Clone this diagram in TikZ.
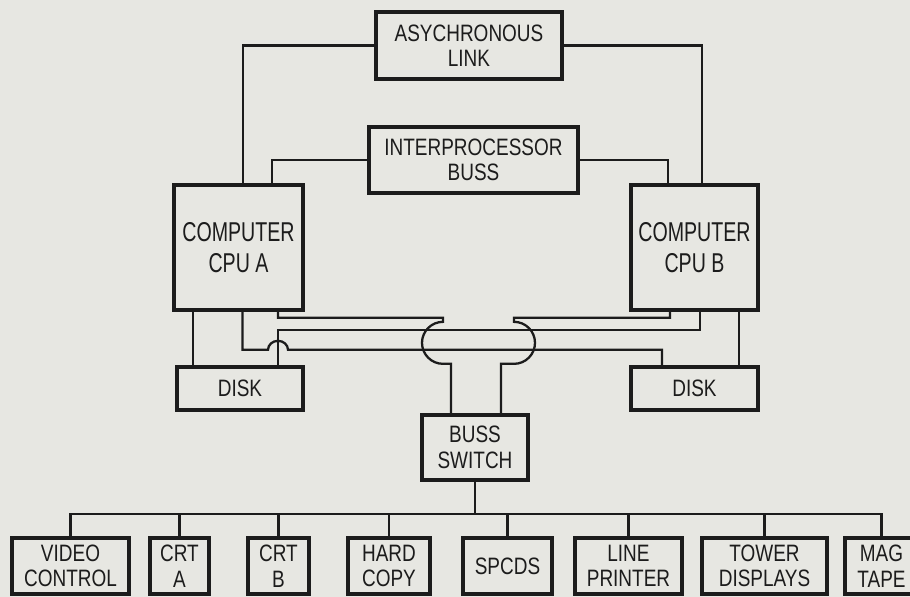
\documentclass[tikz,border=0pt]{standalone}
\usepackage{fontspec}
\setmainfont{Liberation Sans}[FakeStretch=0.8]
\newfontfamily\cpufont{Liberation Sans}[FakeStretch=0.72]
\usetikzlibrary{calc}
\definecolor{PaperGray}{HTML}{E7E7E2}
\definecolor{InkBlack}{HTML}{1C1C1C}
\tikzset{
  unitbox/.style={draw=InkBlack,line width=2.1pt,fill=PaperGray,inner sep=0pt,align=center,
    text=InkBlack,font=\fontsize{13.5}{14.5}\selectfont},
  cpubox/.style={unitbox,font=\cpufont\fontsize{15.5}{18}\selectfont},
  wire/.style={draw=InkBlack,line width=1.3pt},
}

\begin{document}
\begin{tikzpicture}[x=0.02cm,y=-0.02cm]
  \useasboundingbox (0,0) rectangle (910,597);
  \fill[PaperGray] (0,0) rectangle (910,597);
  % links and computers
  \node[unitbox,minimum width=3.72cm,minimum height=1.34cm] (async) at (469,45.5) {ASYCHRONOUS\\LINK};
  \node[unitbox,minimum width=4.18cm,minimum height=1.32cm] (inter) at (473.5,160) {INTERPROCESSOR\\BUSS};
  \node[cpubox,minimum width=2.58cm,minimum height=2.5cm] (cpuA) at (238.5,247.5) {COMPUTER\\CPU A};
  \node[cpubox,minimum width=2.54cm,minimum height=2.5cm] (cpuB) at (694.5,247.5) {COMPUTER\\CPU B};
  \node[unitbox,minimum width=2.52cm,minimum height=0.86cm] (diskA) at (240,388.5) {DISK};
  \node[unitbox,minimum width=2.54cm,minimum height=0.86cm] (diskB) at (694.5,388.5) {DISK};
  \node[unitbox,minimum width=2.12cm,minimum height=1.3cm] (switch) at (475,447.5) {BUSS\\SWITCH};
  % peripherals
  \node[unitbox,minimum width=2.34cm,minimum height=1.12cm] (video) at (70.5,566) {VIDEO\\CONTROL};
  \node[unitbox,minimum width=1.18cm,minimum height=1.12cm] (crtA) at (179.5,566) {CRT\\A};
  \node[unitbox,minimum width=1.22cm,minimum height=1.12cm] (crtB) at (278.5,566) {CRT\\B};
  \node[unitbox,minimum width=1.64cm,minimum height=1.12cm] (hard) at (389,566) {HARD\\COPY};
  \node[unitbox,minimum width=1.78cm,minimum height=1.12cm] (spcds) at (507.5,566) {SPCDS};
  \node[unitbox,minimum width=2.14cm,minimum height=1.12cm] (printer) at (628.5,566) {LINE\\PRINTER};
  \node[unitbox,minimum width=2.5cm,minimum height=1.12cm] (tower) at (764.5,566) {TOWER\\DISPLAYS};
  \node[unitbox,minimum width=1.46cm,minimum height=1.12cm] (mag) at (881.5,566) {MAG\\TAPE};

  % computer to computer
  \draw[wire] (async.west) -| ($(cpuA.north)+(4.5,0)$);
  \draw[wire] (async.east) -| ($(cpuB.north)+(7.5,0)$);
  \draw[wire] (inter.west) -| ($(cpuA.north)+(33.5,0)$);
  \draw[wire] (inter.east) -| ($(cpuB.north)+(-26.5,0)$);
  % computers to disks
  \draw[wire] ($(cpuA.south)+(-45.5,0)$) coordinate (a1) -- (a1 |- diskA.north);
  \draw[wire] ($(cpuB.south)+(44.5,0)$) coordinate (b1) -- (b1 |- diskB.north);
  \draw[wire] ($(cpuA.south)+(4,0)$) -- ++(0,38) -- ++(25.5,0)
    arc[start angle=180,end angle=360,x radius=10,y radius=9] -| ($(diskB.north)+(-32.5,0)$);
  \draw[wire] ($(diskA.north)+(38,0)$) -- ++(0,-35) -| ($(cpuB.south)+(5.5,0)$);
  % computers to buss switch
  \draw[wire] ($(cpuA.south)+(39.5,0)$) -- ++(0,6) -| ++(165,4)
    arc[start angle=270,end angle=90,radius=21] -| ($(switch.north)+(-24,0)$);
  \draw[wire] ($(cpuB.south)+(-24.5,0)$) -- ++(0,6) -| ++(-156,4)
    arc[start angle=-90,end angle=90,radius=21] -| ($(switch.north)+(26,0)$);
  % buss switch to peripherals
  \draw[wire] (switch.south) -- ++(0,32) coordinate (bus);
  \draw[wire] (video.north) |- (bus) -| (mag.north);
  \foreach \dev in {crtA,crtB,hard,spcds,printer,tower}
    \draw[wire] (\dev.north) -- (\dev.north |- bus);
\end{tikzpicture}
\end{document}
